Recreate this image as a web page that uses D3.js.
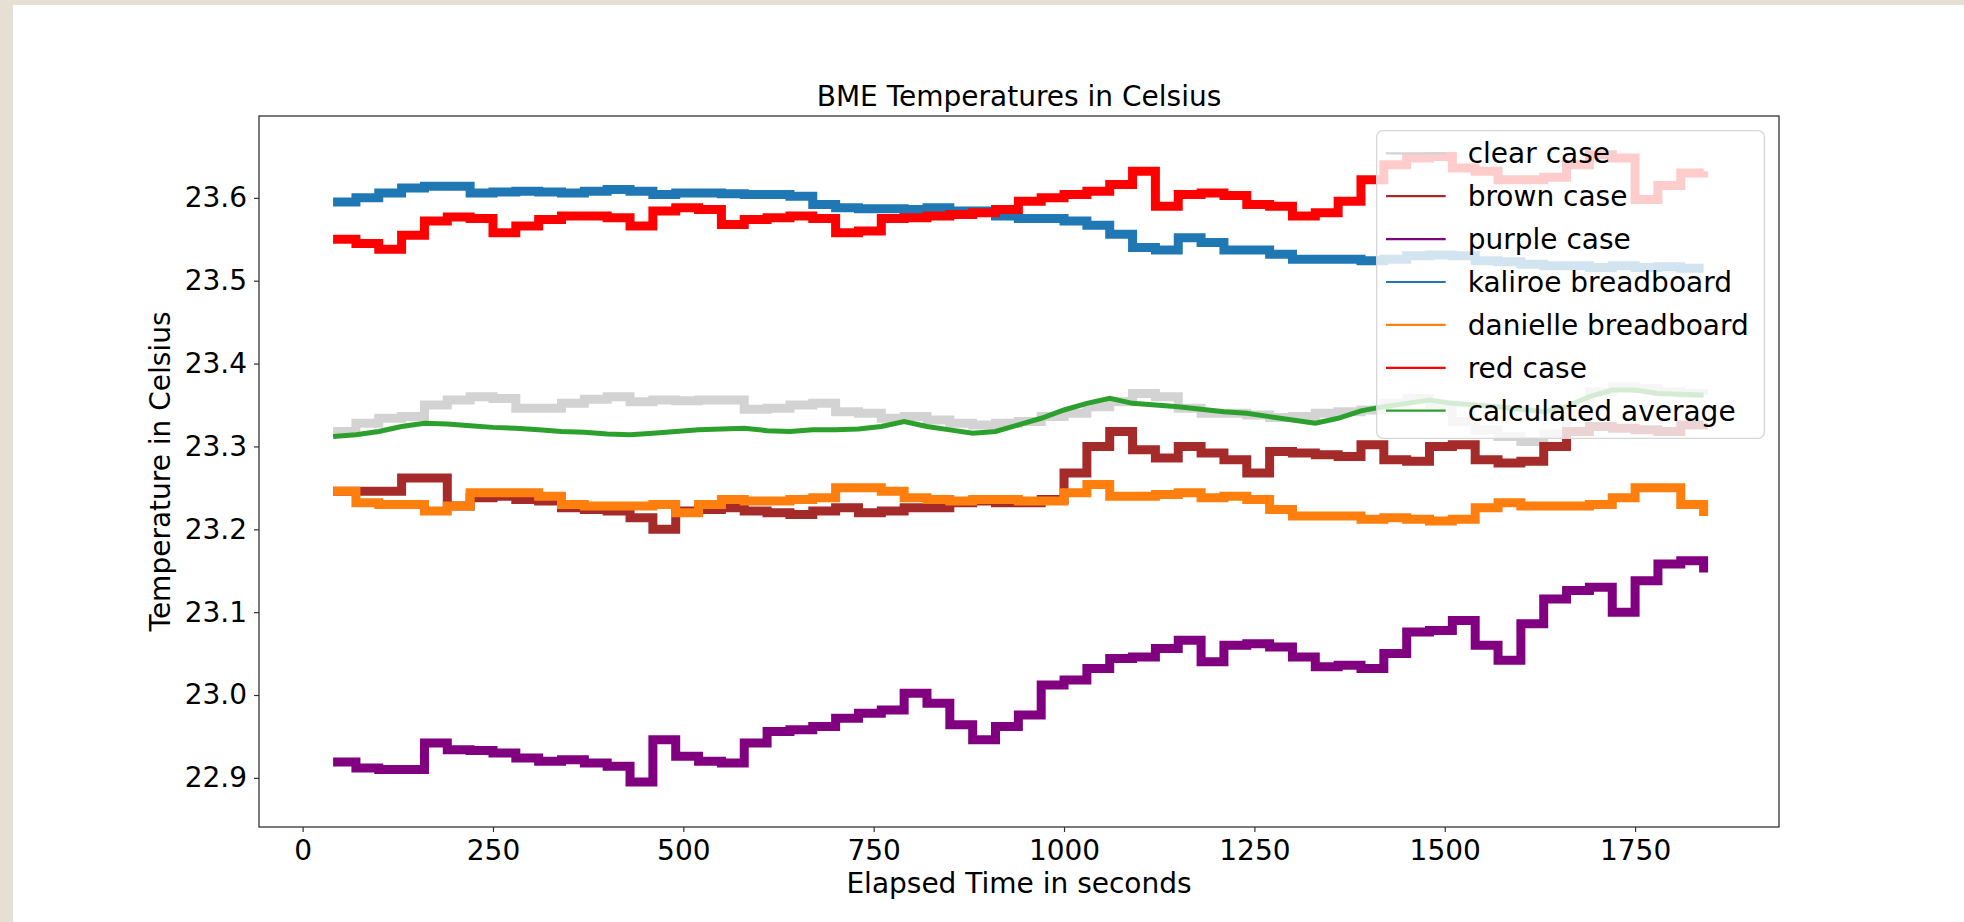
<!DOCTYPE html>
<html>
<head>
<meta charset="utf-8">
<script src="https://cdn.jsdelivr.net/npm/d3@7"></script>
<style>
  html, body { margin: 0; padding: 0; background: #e6dfd4; }
  #chart { position: absolute; left: 13px; top: 5px; width: 1951px; height: 917px; background: #fff; }
  svg { position: absolute; left: 0; top: 0; }
  text { font-family: 'DejaVu Sans', sans-serif; fill: #000; }
</style>
</head>
<body>
<div id="chart"></div>
<script>
// sample times (seconds), one reading every 30 s
const seconds = d3.range(40, 1841, 30)

const clearCase = [23.318, 23.328, 23.334, 23.336, 23.350, 23.356, 23.360, 23.358, 23.346, 23.346,
  23.352, 23.357, 23.360, 23.354, 23.356, 23.355, 23.356, 23.356, 23.345, 23.346,
  23.350, 23.352, 23.342, 23.340, 23.334, 23.336, 23.332, 23.328, 23.326, 23.328,
  23.330, 23.336, 23.340, 23.348, 23.354, 23.364, 23.360, 23.346, 23.340, 23.340,
  23.338, 23.335, 23.336, 23.340, 23.342, 23.344, 23.352, 23.358, 23.350, 23.330,
  23.320, 23.312, 23.306, 23.315, 23.340, 23.366, 23.372, 23.370, 23.366, 23.364, 23.362]

const brownCase = [23.246, 23.246, 23.246, 23.262, 23.262, 23.228, 23.238, 23.240, 23.236, 23.234,
  23.226, 23.224, 23.222, 23.214, 23.200, 23.222, 23.224, 23.226, 23.222, 23.220,
  23.218, 23.222, 23.226, 23.220, 23.222, 23.226, 23.226, 23.232, 23.234, 23.232,
  23.232, 23.236, 23.268, 23.300, 23.318, 23.296, 23.286, 23.300, 23.292, 23.284,
  23.268, 23.294, 23.292, 23.290, 23.288, 23.302, 23.284, 23.282, 23.300, 23.302,
  23.284, 23.280, 23.282, 23.300, 23.318, 23.324, 23.322, 23.320, 23.318, 23.326, 23.328]

const purpleCase = [22.919, 22.912, 22.910, 22.910, 22.942, 22.934, 22.933, 22.930, 22.924, 22.920,
  22.922, 22.918, 22.914, 22.895, 22.946, 22.926, 22.920, 22.918, 22.942, 22.956,
  22.958, 22.962, 22.972, 22.978, 22.982, 23.002, 22.990, 22.964, 22.946, 22.962,
  22.976, 23.012, 23.018, 23.032, 23.044, 23.046, 23.056, 23.066, 23.040, 23.060,
  23.062, 23.058, 23.046, 23.034, 23.036, 23.032, 23.050, 23.076, 23.078, 23.090,
  23.060, 23.042, 23.086, 23.116, 23.126, 23.130, 23.100, 23.138, 23.158, 23.162, 23.148]

const kaliroeBreadboard = [23.595, 23.600, 23.606, 23.612, 23.614, 23.614, 23.606, 23.607, 23.608, 23.607,
  23.606, 23.608, 23.610, 23.608, 23.604, 23.606, 23.606, 23.605, 23.604, 23.604,
  23.602, 23.592, 23.588, 23.587, 23.587, 23.586, 23.588, 23.584, 23.584, 23.578,
  23.575, 23.575, 23.572, 23.567, 23.556, 23.540, 23.537, 23.552, 23.546, 23.537,
  23.537, 23.532, 23.526, 23.526, 23.526, 23.524, 23.526, 23.530, 23.531, 23.530,
  23.524, 23.523, 23.520, 23.518, 23.518, 23.516, 23.518, 23.516, 23.517, 23.515, 23.515]

const danielleBreadboard = [23.246, 23.232, 23.230, 23.230, 23.222, 23.228, 23.244, 23.244, 23.244, 23.240,
  23.230, 23.228, 23.228, 23.228, 23.230, 23.220, 23.230, 23.236, 23.234, 23.234,
  23.236, 23.238, 23.250, 23.250, 23.246, 23.238, 23.236, 23.234, 23.236, 23.236,
  23.234, 23.234, 23.244, 23.254, 23.240, 23.240, 23.242, 23.244, 23.238, 23.240,
  23.236, 23.224, 23.216, 23.216, 23.216, 23.212, 23.214, 23.212, 23.210, 23.212,
  23.226, 23.232, 23.228, 23.228, 23.228, 23.230, 23.238, 23.250, 23.250, 23.230, 23.216]

const redCase = [23.550, 23.545, 23.538, 23.555, 23.572, 23.577, 23.575, 23.558, 23.566, 23.574,
  23.578, 23.578, 23.576, 23.566, 23.584, 23.588, 23.586, 23.568, 23.574, 23.576,
  23.578, 23.575, 23.558, 23.560, 23.575, 23.576, 23.578, 23.580, 23.582, 23.586,
  23.596, 23.600, 23.604, 23.608, 23.616, 23.632, 23.590, 23.604, 23.606, 23.603,
  23.592, 23.590, 23.578, 23.582, 23.596, 23.622, 23.640, 23.648, 23.650, 23.636,
  23.632, 23.622, 23.622, 23.625, 23.640, 23.652, 23.648, 23.598, 23.615, 23.630, 23.632]

const calculatedAverage = [23.312, 23.314, 23.318, 23.324, 23.328, 23.327, 23.325, 23.323, 23.322, 23.320,
  23.318, 23.317, 23.315, 23.314, 23.316, 23.318, 23.320, 23.321, 23.322, 23.319,
  23.318, 23.320, 23.320, 23.321, 23.324, 23.330, 23.324, 23.320, 23.316, 23.318,
  23.326, 23.334, 23.344, 23.352, 23.358, 23.352, 23.350, 23.348, 23.345, 23.342,
  23.340, 23.336, 23.332, 23.328, 23.334, 23.343, 23.348, 23.352, 23.356, 23.352,
  23.350, 23.348, 23.345, 23.342, 23.348, 23.360, 23.368, 23.368, 23.364, 23.363, 23.362]

const seriesNames = ['clear case', 'brown case', 'purple case', 'kaliroe breadboard',
  'danielle breadboard', 'red case', 'calculated average']
const seriesValues = [clearCase, brownCase, purpleCase, kaliroeBreadboard,
  danielleBreadboard, redCase, calculatedAverage]
const seriesColors = ['#d3d3d3', '#a52a2a', '#800080', '#1f77b4', '#ff7f0e', '#ff0000', '#2ca02c']

const xTicks = [0, 250, 500, 750, 1000, 1250, 1500, 1750]
const yTicks = [22.9, 23.0, 23.1, 23.2, 23.3, 23.4, 23.5, 23.6]

// dimension stuff (page coords, chart div is offset by 13, 5)
const offsetX = 13
const offsetY = 5
const marginLeft = 259 - offsetX
const marginTop = 116 - offsetY
const width = 1520
const height = 711
const fontSize = 28

const $svg = d3.select('#chart').append('svg')
  .attr('width', 1951)
  .attr('height', 917)

const $g = $svg.append('g')
  .attr('transform', `translate(${marginLeft}, ${marginTop})`)

// scales
const scaleX = d3.scaleLinear().domain([-57.3, 1939]).range([0, width])
const scaleY = d3.scaleLinear().domain([22.8407, 23.6988]).range([height, 0])

const data = seriesNames.map((name, i) => ({
  name,
  color: seriesColors[i],
  values: seriesValues[i].map((v, j) => ({ t: seconds[j], v }))
}))

// lines
const line = d3.line()
  .x(d => scaleX(d.t))
  .y(d => scaleY(d.v))

$g.append('defs').append('clipPath').attr('id', 'clip')
  .append('rect').attr('width', width).attr('height', height)

const $vis = $g.append('g').attr('class', 'g-vis').attr('clip-path', 'url(#clip)')

// sensor readings are quantised, so draw them as steps; the average is smooth
$vis.selectAll('.series')
  .data(data)
  .enter()
  .append('path')
  .attr('class', 'series')
  .attr('fill', 'none')
  .attr('stroke', d => d.color)
  .attr('stroke-width', d => d.name === 'calculated average' ? 5 : 9)
  .attr('stroke-linejoin', 'miter')
  .attr('d', d => line.curve(d.name === 'calculated average' ? d3.curveLinear : d3.curveStepAfter)(d.values))

// axes
const xAxis = d3.axisBottom(scaleX)
  .tickValues(xTicks)
  .tickFormat(d3.format('d'))
  .tickSize(5)
  .tickPadding(8)
  .tickSizeOuter(0)

const yAxis = d3.axisLeft(scaleY)
  .tickValues(yTicks)
  .tickFormat(d3.format('.1f'))
  .tickSize(5)
  .tickPadding(7)
  .tickSizeOuter(0)

$g.append('g')
  .attr('class', 'g-axis')
  .attr('transform', `translate(0, ${height})`)
  .call(xAxis)

$g.append('g')
  .attr('class', 'g-axis')
  .call(yAxis)

$g.selectAll('.g-axis .domain').remove()
$g.selectAll('.g-axis line').attr('stroke', '#333').attr('stroke-width', 1.2)
$g.selectAll('.g-axis text')
  .style('font-size', `${fontSize}px`)
  .style('font-family', "'DejaVu Sans', sans-serif")
  .attr('fill', '#000')

// frame
$g.append('rect')
  .attr('width', width)
  .attr('height', height)
  .attr('fill', 'none')
  .attr('stroke', '#333')
  .attr('stroke-width', 1.3)

// title and axis labels
$g.append('text')
  .attr('x', width / 2)
  .attr('y', -10)
  .attr('text-anchor', 'middle')
  .style('font-size', `${fontSize}px`)
  .text('BME Temperatures in Celsius')

$g.append('text')
  .attr('x', width / 2)
  .attr('y', 893 - 116)
  .attr('text-anchor', 'middle')
  .style('font-size', `${fontSize}px`)
  .text('Elapsed Time in seconds')

$g.append('text')
  .attr('transform', `translate(${170 - 259}, ${height / 2}) rotate(-90)`)
  .attr('text-anchor', 'middle')
  .style('font-size', `${fontSize}px`)
  .text('Temperature in Celsius')

// legend
const legendX = 1376.7 - 259
const legendY = 130.7 - 116
const legendW = 387.6
const legendH = 307.6
const rowStep = 42.9

const $legend = $g.append('g')
  .attr('class', 'g-legend')
  .attr('transform', `translate(${legendX}, ${legendY})`)

$legend.append('rect')
  .attr('width', legendW)
  .attr('height', legendH)
  .attr('rx', 6)
  .attr('fill', '#fff')
  .attr('fill-opacity', 0.8)
  .attr('stroke', '#d6d6d6')
  .attr('stroke-width', 1.3)

const $rows = $legend.selectAll('.g-row')
  .data(data)
  .enter()
  .append('g')
  .attr('class', 'g-row')
  .attr('transform', (d, i) => `translate(0, ${22.6 + i * rowStep})`)

$rows.append('line')
  .attr('x1', 9.3)
  .attr('x2', 69)
  .attr('stroke', d => d.color)
  .attr('stroke-width', 2.2)

$rows.append('text')
  .attr('x', 91)
  .attr('y', 10)
  .style('font-size', `${fontSize}px`)
  .text(d => d.name)
</script>
</body>
</html>
